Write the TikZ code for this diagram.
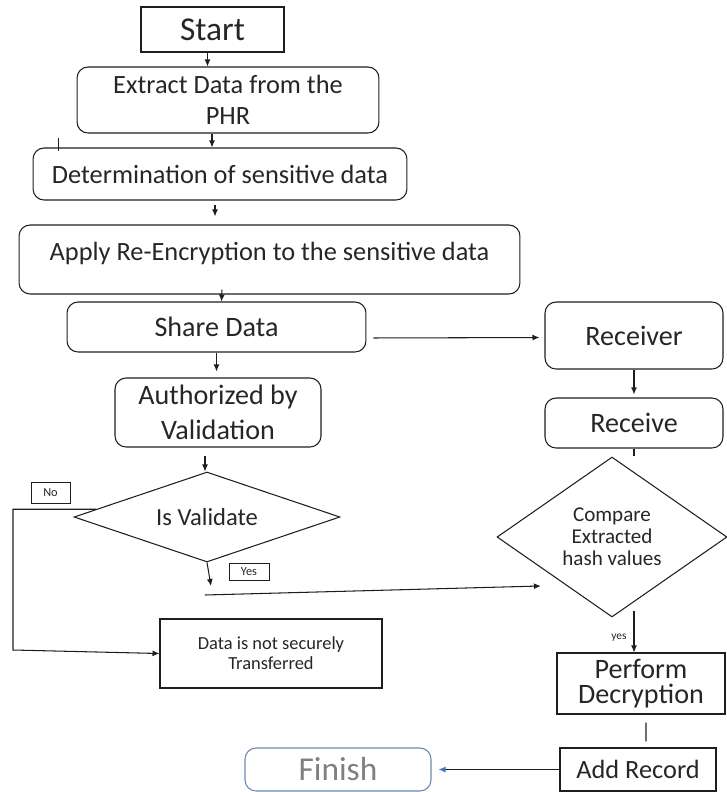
\documentclass[tikz,border=0pt]{standalone}
\usepackage{fontspec}
\setmainfont{Carlito}
\usepackage{tikz}
\usetikzlibrary{arrows.meta,calc,shapes.geometric}
\definecolor{lngrey}{RGB}{30,30,30}
\definecolor{txtgrey}{RGB}{38,38,38}
\definecolor{finline}{RGB}{110,135,170}
\definecolor{fintext}{RGB}{128,128,128}
\definecolor{finarrow}{RGB}{68,114,196}

\begin{document}
\begin{tikzpicture}[x=0.02cm,y=-0.02cm,
  every node/.style={text=txtgrey},
  sbox/.style={draw=lngrey,line width=0.6pt,align=center,inner sep=2pt},
  rbox/.style={sbox,rounded corners=0.22cm},
  dia/.style={diamond,draw=lngrey,line width=0.6pt,align=center,inner sep=0pt},
  tag/.style={draw=lngrey,line width=0.5pt,inner sep=1pt,font=\fontsize{7}{8}\selectfont},
  ar/.style={-{Latex[length=1.4mm,width=1.2mm]},lngrey,line width=0.6pt},
  ln/.style={lngrey,line width=0.6pt}]
\useasboundingbox (0,0) rectangle (727,792);
\node[sbox,minimum width=2.86cm,minimum height=0.9cm,font=\fontsize{19}{21}\selectfont] (start) at (212.5,29.5) {Start};
\node[rbox,minimum width=6.04cm,minimum height=1.32cm,font=\fontsize{15}{17.5}\selectfont] (extract) at (228,100) {Extract Data from the\\PHR};
\node[rbox,minimum width=7.48cm,minimum height=1.04cm,font=\fontsize{15}{17}\selectfont] (det) at (220,174) {Determination of sensitive data};
\node[rbox,minimum width=10.02cm,minimum height=1.38cm,text depth=0.32cm,font=\fontsize{15}{17}\selectfont] (apply) at (269.5,259.5) {Apply Re-Encryption to the sensitive data};
\node[rbox,minimum width=5.98cm,minimum height=1.0cm,font=\fontsize{16}{18}\selectfont] (share) at (216.5,327) {Share Data};
\node[rbox,minimum width=4.12cm,minimum height=1.38cm,font=\fontsize{16}{20}\selectfont] (auth) at (218,412.5) {Authorized by\\Validation};
\node[dia,minimum width=5.32cm,minimum height=1.8cm,shape aspect=2.9,font=\fontsize{14}{16}\selectfont] (isval) at (207,517) {Is Validate};
\node[tag,minimum width=0.78cm,minimum height=0.42cm] (nolab) at (50.5,492.5) {No};
\node[tag,minimum width=0.8cm,minimum height=0.34cm] (yeslab) at (249,571.5) {Yes};
\node[sbox,minimum width=4.44cm,minimum height=1.38cm,font=\fontsize{10.5}{11.5}\selectfont] (nosec) at (271,653.5) {Data is not securely\\Transferred};
\node[rbox,minimum width=3.56cm,minimum height=1.34cm,font=\fontsize{16}{18}\selectfont] (receiver) at (634,335.5) {Receiver};
\node[rbox,minimum width=3.56cm,minimum height=1.0cm,font=\fontsize{16}{18}\selectfont] (receive) at (634,423) {Receive};
\node[dia,minimum width=4.6cm,minimum height=3.2cm,shape aspect=1.46,font=\fontsize{12}{12.5}\selectfont] (cmp) at (612,537) {Compare\\Extracted\\hash values};
\node[font=\fontsize{6.5}{7}\selectfont,inner sep=0pt] (yes2) at (619,638) {yes};
\node[sbox,minimum width=3.36cm,minimum height=1.22cm,font=\fontsize{16}{14.5}\selectfont] (perf) at (641,683.5) {Perform\\Decryption};
\node[sbox,minimum width=3.12cm,minimum height=0.86cm,font=\fontsize{15}{17}\selectfont] (addrec) at (638,769.5) {Add Record};
\node[draw=finline,line width=0.6pt,rounded corners=0.22cm,minimum width=3.72cm,minimum height=0.86cm,text=fintext,font=\fontsize{19}{21}\selectfont] (finish) at (338,769.5) {Finish};
\coordinate (ydown) at (211,586);
\coordinate (yfoot) at (205,595);
\coordinate (nobend) at (13,650);
% main column
\draw[ar] ([xshift=-0.1cm]start.south) -- ([xshift=-0.1cm]start.south |- extract.north);
\draw[ar] ([xshift=-0.32cm]extract.south) -- ([xshift=-0.32cm]extract.south |- det.north);
\draw[ln] ([xshift=0.52cm,yshift=0.18cm]det.north west) -- ([xshift=0.52cm,yshift=-0.08cm]det.north west);
\draw[ar,shorten <=0.08cm,shorten >=0.16cm] ([xshift=-0.1cm]det.south) -- ([xshift=-0.1cm]det.south |- apply.north);
\draw[ar] ([xshift=-0.95cm,yshift=0.1cm]apply.south) -- ([xshift=0.1cm]share.north);
\draw[ar,shorten >=0.12cm] (share.south) -- (share.south |- auth.north);
\draw[ar,shorten <=0.16cm] ([xshift=-0.26cm]auth.south) -- ([xshift=-0.26cm]auth.south |- isval.north);
% decision
\draw[ar] (isval.south) -- (ydown);
\draw[ar,shorten >=0.5cm] (yfoot) -- ($(cmp.west)!0.6!(cmp.south)$);
\draw[ar] ($(isval.west)!0.17!(isval.north)$) -| (nobend) -- (nosec.west);
% receiver side
\draw[ar,shorten <=0.14cm,shorten >=0.1cm] ([yshift=-0.22cm]share.east) -- ([yshift=-0.04cm]receiver.west);
\draw[ar,shorten >=0.06cm] (receiver.south) -- (receive.north);
\draw[ln] (receive.south) -- ([yshift=-0.14cm]receive.south);
\draw[ar] ([xshift=-0.14cm,yshift=0.14cm]perf.north |- cmp.south) -- ([xshift=-0.14cm]perf.north);
\draw[ln,shorten <=0.16cm,shorten >=0.12cm] ([xshift=0.1cm]perf.south) -- ([xshift=0.16cm]addrec.north);
\draw[-{Latex[length=1.4mm,width=1.2mm,color=finarrow]},ln,shorten >=0.14cm] (addrec.west) -- (finish.east);
\end{tikzpicture}
\end{document}
